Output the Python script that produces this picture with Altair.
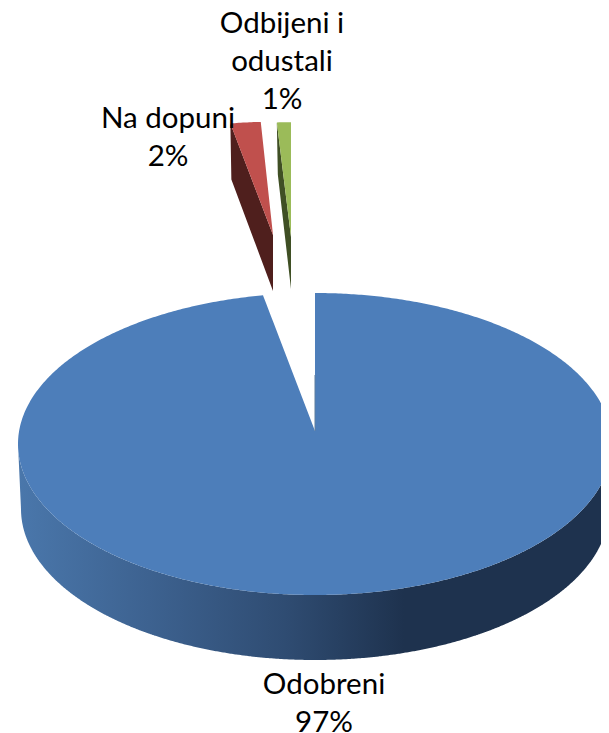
import numpy as np
import pandas as pd
import altair as alt

# ---- values
categories = ["Odobreni", "Na dopuni", "Odbijeni i\nodustali"]
shares = [97.2, 2.0, 0.8]

# ---- geometry / style of the tilted pie (not data)
W, H = 593, 725
CX, CY, RX, RY = 315, 444, 297, 151
APEX_Y = 431
DEPTH = 65
STYLE = {
    "Odobreni": dict(top="#4d7eba", side="#1e324e", apex=(315, APEX_Y), sx=1, sy=1, depth=DEPTH,
                     label=(324, 685)),
    "Na dopuni": dict(top="#c0504d", side="#4f1f1d", apex=(273, 235), sx=0.82, sy=0.75, depth=56,
                      label=(168, 119)),
    "Odbijeni i\nodustali": dict(top="#9bbb59", side="#3f4f24", apex=(291, 237), sx=0.95, sy=0.76, depth=52,
                                 label=(282, 24)),
}
SIDE_GRADIENT = [
    (0.0, "#4a77ab"), (0.22, "#3d6290"), (0.45, "#2f4c72"),
    (0.65, "#1e324e"), (1.0, "#1e324e"),
]

xs = alt.X("x:Q", scale=alt.Scale(domain=[8, 8 + W], range=[0, W]), axis=None)
ys = alt.Y("y:Q", scale=alt.Scale(domain=[8 + H, 8], range=[H, 0]), axis=None)


def envelope(poly):
    """Turn a polygon into x / y / y2 rows for an area mark."""
    poly = np.asarray(poly, dtype=float)
    a, b = poly, np.roll(poly, -1, axis=0)
    eps = 1e-3
    grid = np.unique(np.concatenate([poly[:, 0] - eps, poly[:, 0] + eps]))
    rows = []
    for x in grid:
        mask = (a[:, 0] - x) * (b[:, 0] - x) <= 0
        mask &= a[:, 0] != b[:, 0]
        if not mask.any():
            continue
        t = (x - a[mask, 0]) / (b[mask, 0] - a[mask, 0])
        y = a[mask, 1] + t * (b[mask, 1] - a[mask, 1])
        rows.append({"x": x, "y": y.min(), "y2": y.max()})
    return pd.DataFrame(rows)


def area(poly, fill):
    return alt.Chart(envelope(poly)).mark_area(color=fill, clip=True, interpolate="linear").encode(
        x=xs, y=ys, y2="y2:Q"
    )


layers = []
start = 0.0
for cat, share in zip(categories, shares):
    s = STYLE[cat]
    end = start + share * 3.6
    th = np.radians(np.arange(start, end, 0.5).tolist() + [end])
    ax, ay = s["apex"]
    ex = ax + s["sx"] * RX * np.sin(th)
    ey = (CY if cat == categories[0] else ay) - s["sy"] * RY * np.cos(th)
    if cat == categories[0]:
        # front wall of the large slice
        fr = np.radians(np.arange(90, 270.5, 0.5))
        top_edge = np.c_[CX + RX * np.sin(fr), CY - RY * np.cos(fr)]
        low_edge = np.c_[CX + (RX - 3) * np.sin(fr), CY + DEPTH - RY * np.cos(fr)]
        wall = np.vstack([top_edge, low_edge[::-1]])
        grad = alt.Gradient(
            gradient="linear", x1=0, x2=1, y1=0, y2=0,
            stops=[alt.GradientStop(offset=o, color=c) for o, c in SIDE_GRADIENT],
        )
        layers.append(area(wall, grad))
    else:
        # cut face of the pulled-out slices
        d = s["depth"]
        layers.append(area([(ex[0], ey[0]), (ex[0] + 1, ey[0] + d), (ax, ay + d), (ax, ay)], s["side"]))
    poly = np.vstack([[ax, ay], np.c_[ex, ey]])
    layers.append(area(poly, s["top"]))
    start = end

inner = alt.Chart(pd.DataFrame({"x": [CX, CX], "y": [375, APEX_Y]})).mark_line(
    color="#5f7f9f", strokeWidth=1
).encode(x=xs, y=ys)
layers.append(inner)

labels = pd.DataFrame({
    "x": [STYLE[c]["label"][0] for c in categories],
    "y": [STYLE[c]["label"][1] for c in categories],
    "t": [f"{c}\n{round(v)}%" for c, v in zip(categories, shares)],
})
text = alt.Chart(labels).mark_text(
    font="Lato", fontSize=29.5, color="#000000", lineBreak="\n", lineHeight=38,
    align="center", baseline="middle",
).encode(x=xs, y=ys, text="t:N")
layers.append(text)

chart = alt.layer(*layers).resolve_scale(x="shared", y="shared").properties(
    width=W, height=H, padding=0, background="#ffffff",
    autosize=alt.AutoSizeParams(type="none"),
).configure_view(stroke=None)

chart.save("out.html", embed_options={"renderer": "svg", "actions": False})
